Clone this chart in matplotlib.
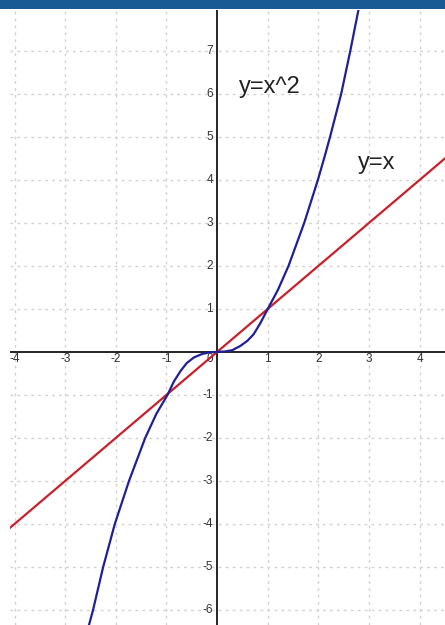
import matplotlib.pyplot as plt
from matplotlib.patches import Rectangle

# values
curve_x = [-2.53, -2.45, -2.25, -2.02, -1.74, -1.42, -1.2, -0.98, -0.85, -0.72, -0.6, -0.46,
           -0.3, -0.15, 0.0, 0.15, 0.3, 0.46, 0.6, 0.72, 0.85, 1.0, 1.2, 1.41, 1.72, 1.99,
           2.12, 2.23, 2.45, 2.63, 2.79]
curve_y = [-6.35, -6.0, -5.0, -4.0, -3.0, -2.0, -1.44, -1.0, -0.68, -0.44, -0.26, -0.13,
           -0.05, -0.01, 0.0, 0.01, 0.04, 0.14, 0.26, 0.41, 0.66, 1.0, 1.44, 2.0, 3.0, 4.0,
           4.53, 5.0, 6.0, 7.0, 7.95]
line_x = [-4.1, 4.5]
line_y = [-4.1, 4.5]

x_ticks = [-4, -3, -2, -1, 1, 2, 3, 4]
y_ticks = [-6, -5, -4, -3, -2, -1, 1, 2, 3, 4, 5, 6, 7]

plt.rcParams['font.family'] = ['Liberation Sans', 'DejaVu Sans']

fig = plt.figure(figsize=(4.45, 6.25), dpi=100)
ax = fig.add_axes([10 / 445, 0, 435 / 445, 615 / 625])
ax.set_xlim(-4.09, 4.5)
ax.set_ylim(-6.35, 7.95)
ax.axis('off')

# dotted grid
for gx in x_ticks:
    ax.axvline(gx, color='#d2d2d2', lw=1, ls=(0, (2, 3)), zorder=0)
for gy in y_ticks:
    ax.axhline(gy, color='#d2d2d2', lw=1, ls=(0, (2, 3)), zorder=0)

# axes through the origin
ax.axhline(0, color='black', lw=1.2, zorder=1)
ax.axvline(0, color='black', lw=1.2, zorder=1)

# tick labels
for t in x_ticks:
    ax.text(t, -0.16, str(t), ha='center', va='center', fontsize=8.5, color='#333333')
for t in y_ticks:
    ax.text(-0.08, t, str(t), ha='right', va='center', fontsize=8.5, color='#333333')
ax.text(-0.08, -0.16, '0', ha='right', va='center', fontsize=8.5, color='#333333')

# curves
ax.plot(line_x, line_y, color='#c8202a', lw=1.6, zorder=3)
ax.plot(curve_x, curve_y, color='#1f1f9a', lw=1.6, zorder=4, solid_joinstyle='round')

ax.text(1.05, 6.16, 'y=x^2', ha='center', va='center', fontsize=17, color='#222222')
ax.text(3.16, 4.4, 'y=x', ha='center', va='center', fontsize=17, color='#222222')

# header strip
fig.patches.append(Rectangle((0, 1 - 9 / 625), 1, 9 / 625, transform=fig.transFigure,
                             facecolor='#1a5a94', edgecolor='none', zorder=10))

fig.savefig('out.png', dpi=100)
